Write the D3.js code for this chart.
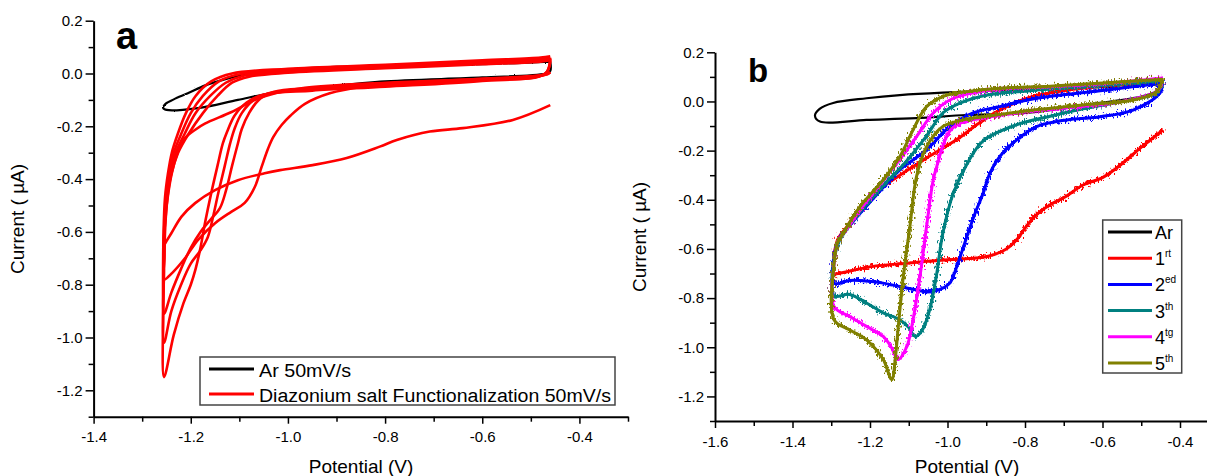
<!DOCTYPE html>
<html>
<head>
<meta charset="utf-8">
<script src="https://cdn.jsdelivr.net/npm/d3@7"></script>
<style>
  body { margin: 0; background: #fff; }
  svg { display: block; font-family: "Liberation Sans", Arial, sans-serif; }
</style>
</head>
<body>
<svg id="chart" width="1207" height="476"></svg>
<script>
// data: [potential (V), current (uA)]

// panel a
const xTicksA = [-1.4, -1.2, -1.0, -0.8, -0.6, -0.4]
const xMinorA = [-1.3, -1.1, -0.9, -0.7, -0.5, -0.3]
const yTicks = [0.2, 0.0, -0.2, -0.4, -0.6, -0.8, -1.0, -1.2]
const yMinor = [0.1, -0.1, -0.3, -0.5, -0.7, -0.9, -1.1, -1.3]

const arA = [[-0.46, 0.045], [-0.6, 0.035], [-0.8, 0.028], [-0.9, 0.025], [-1.0, 0.015], [-1.08, 0.0],
  [-1.136, -0.025], [-1.17, -0.045], [-1.206, -0.075], [-1.235, -0.098], [-1.252, -0.115], [-1.257, -0.13],
  [-1.25, -0.138], [-1.185, -0.131], [-1.103, -0.1], [-1.033, -0.074], [-0.965, -0.06], [-0.81, -0.031],
  [-0.6, -0.015], [-0.47, 0.0], [-0.46, 0.01], [-0.46, 0.045]]

const diazA1 = [[-0.46, -0.12], [-0.537, -0.176], [-0.64, -0.207], [-0.708, -0.22], [-0.776, -0.252], [-0.811, -0.277],
  [-0.879, -0.32], [-0.949, -0.347], [-1.016, -0.366], [-1.048, -0.378], [-1.103, -0.404], [-1.15, -0.442],
  [-1.191, -0.491], [-1.219, -0.542], [-1.24, -0.605], [-1.25, -0.635], [-1.255, -0.65],
  [-1.252, -0.55], [-1.246, -0.45], [-1.238, -0.37], [-1.225, -0.29], [-1.212, -0.245], [-1.19, -0.212],
  [-1.171, -0.19], [-1.116, -0.146], [-1.068, -0.1], [-1.02, -0.072], [-0.965, -0.054], [-0.8, -0.035],
  [-0.6, -0.02], [-0.5, -0.01], [-0.465, -0.002], [-0.46, 0.005]]
const diazA2 = [[-0.46, 0.005], [-0.47, -0.005], [-0.6, -0.02], [-0.75, -0.035], [-0.845, -0.05], [-0.914, -0.075],
  [-0.965, -0.115], [-0.995, -0.16], [-1.013, -0.195], [-1.03, -0.24], [-1.041, -0.285], [-1.054, -0.353],
  [-1.068, -0.429], [-1.089, -0.49], [-1.116, -0.523], [-1.15, -0.567], [-1.185, -0.63], [-1.212, -0.7],
  [-1.238, -0.755], [-1.255, -0.78],
  [-1.254, -0.7], [-1.253, -0.6], [-1.248, -0.47], [-1.24, -0.38], [-1.226, -0.3], [-1.205, -0.23], [-1.175, -0.15],
  [-1.145, -0.085], [-1.115, -0.035], [-1.08, -0.012], [-1.0, 0.003], [-0.8, 0.02], [-0.6, 0.035],
  [-0.48, 0.045], [-0.46, 0.05]]
const diazA3 = [[-0.46, 0.05], [-0.47, 0.0], [-0.6, -0.022], [-0.8, -0.04], [-0.95, -0.055], [-1.03, -0.07],
  [-1.06, -0.1], [-1.08, -0.15], [-1.095, -0.21], [-1.103, -0.265], [-1.115, -0.35], [-1.127, -0.44],
  [-1.14, -0.51], [-1.16, -0.555], [-1.18, -0.6], [-1.2, -0.66], [-1.22, -0.74], [-1.24, -0.83], [-1.255, -0.91],
  [-1.255, -0.75], [-1.254, -0.6], [-1.25, -0.47], [-1.243, -0.38], [-1.231, -0.3], [-1.213, -0.23], [-1.19, -0.15],
  [-1.16, -0.085], [-1.128, -0.035], [-1.095, -0.01], [-1.0, 0.008], [-0.8, 0.025], [-0.6, 0.04],
  [-0.48, 0.05], [-0.46, 0.055]]
const diazA4 = [[-0.46, 0.055], [-0.47, 0.0], [-0.6, -0.025], [-0.8, -0.045], [-0.95, -0.06], [-1.04, -0.075],
  [-1.07, -0.1], [-1.095, -0.15], [-1.11, -0.21], [-1.119, -0.265], [-1.13, -0.35], [-1.143, -0.45],
  [-1.155, -0.55], [-1.165, -0.62], [-1.18, -0.67], [-1.2, -0.72], [-1.22, -0.8], [-1.24, -0.9], [-1.255, -1.02],
  [-1.256, -0.8], [-1.255, -0.6], [-1.251, -0.47], [-1.245, -0.38], [-1.235, -0.3], [-1.22, -0.23], [-1.2, -0.15],
  [-1.175, -0.085], [-1.142, -0.03], [-1.105, -0.005], [-1.0, 0.013], [-0.8, 0.03], [-0.6, 0.045],
  [-0.48, 0.055], [-0.46, 0.06]]
const diazA5 = [[-0.46, 0.06], [-0.47, 0.0], [-0.6, -0.028], [-0.8, -0.05], [-0.95, -0.065], [-1.05, -0.08],
  [-1.085, -0.11], [-1.11, -0.16], [-1.125, -0.22], [-1.134, -0.265], [-1.145, -0.35], [-1.158, -0.454],
  [-1.17, -0.56], [-1.18, -0.66], [-1.19, -0.74], [-1.2, -0.8], [-1.215, -0.87], [-1.235, -0.99], [-1.255, -1.15],
  [-1.257, -0.9], [-1.256, -0.6], [-1.253, -0.47], [-1.247, -0.38], [-1.239, -0.3], [-1.227, -0.23], [-1.21, -0.15],
  [-1.19, -0.085], [-1.158, -0.03], [-1.115, 0.0], [-1.0, 0.018], [-0.8, 0.033], [-0.6, 0.05],
  [-0.48, 0.06], [-0.46, 0.065]]

// panel b
const xTicksB = [-1.6, -1.4, -1.2, -1.0, -0.8, -0.6, -0.4]
const xMinorB = [-1.5, -1.3, -1.1, -0.9, -0.7, -0.5]

const arB = [[-0.445, 0.07], [-0.6, 0.058], [-0.8, 0.048], [-1.012, 0.036], [-1.123, 0.026], [-1.209, 0.013],
  [-1.295, -0.006], [-1.33, -0.03], [-1.342, -0.058], [-1.329, -0.082], [-1.209, -0.075], [-1.08, -0.068],
  [-0.95, -0.055], [-0.797, -0.047], [-0.65, -0.015], [-0.5, 0.02], [-0.445, 0.05]]

const cycleB1 = [[-0.444, -0.116], [-0.498, -0.184], [-0.563, -0.27], [-0.6, -0.31], [-0.65, -0.34], [-0.698, -0.39],
  [-0.735, -0.42], [-0.77, -0.46], [-0.797, -0.509], [-0.82, -0.56], [-0.848, -0.6], [-0.898, -0.631],
  [-1.0, -0.644], [-1.098, -0.657], [-1.197, -0.672], [-1.277, -0.698], [-1.293, -0.7],
  [-1.292, -0.62], [-1.283, -0.56], [-1.26, -0.51], [-1.209, -0.4], [-1.123, -0.3], [-1.054, -0.23],
  [-0.976, -0.155], [-0.92, -0.09], [-0.865, -0.035], [-0.78, 0.02], [-0.65, 0.055], [-0.477, 0.075], [-0.445, 0.08]]
const cycleB2 = [[-0.445, 0.08], [-0.452, 0.034], [-0.521, -0.035], [-0.606, -0.062], [-0.692, -0.075],
  [-0.77, -0.102], [-0.822, -0.157], [-0.865, -0.224], [-0.89, -0.29], [-0.908, -0.373], [-0.93, -0.46],
  [-0.95, -0.55], [-0.976, -0.671], [-0.994, -0.739], [-1.02, -0.765], [-1.05, -0.775], [-1.08, -0.767],
  [-1.123, -0.753], [-1.166, -0.739], [-1.209, -0.73], [-1.252, -0.728], [-1.293, -0.739],
  [-1.292, -0.62], [-1.28, -0.56], [-1.25, -0.5], [-1.2, -0.41], [-1.16, -0.34], [-1.123, -0.278],
  [-1.054, -0.197], [-0.994, -0.102], [-0.934, -0.047], [-0.865, -0.021], [-0.78, 0.01], [-0.6, 0.045], [-0.445, 0.075]]
const cycleB3 = [[-0.445, 0.075], [-0.46, 0.035], [-0.55, 0.0], [-0.65, -0.03], [-0.735, -0.06], [-0.822, -0.095],
  [-0.908, -0.16], [-0.95, -0.255], [-0.985, -0.373], [-1.012, -0.536], [-1.029, -0.712], [-1.046, -0.848],
  [-1.065, -0.93], [-1.083, -0.956], [-1.1, -0.92], [-1.123, -0.888], [-1.166, -0.86], [-1.209, -0.82],
  [-1.252, -0.785], [-1.293, -0.79],
  [-1.292, -0.64], [-1.28, -0.57], [-1.26, -0.52], [-1.215, -0.43], [-1.165, -0.34], [-1.11, -0.25],
  [-1.054, -0.14], [-1.012, -0.047], [-0.968, -0.007], [-0.9, 0.025], [-0.78, 0.045], [-0.6, 0.065], [-0.445, 0.085]]
const cycleB4 = [[-0.445, 0.085], [-0.46, 0.04], [-0.55, 0.0], [-0.65, -0.02], [-0.78, -0.04], [-0.9, -0.065],
  [-0.97, -0.09], [-0.994, -0.12], [-1.012, -0.18], [-1.025, -0.25], [-1.037, -0.32], [-1.054, -0.509],
  [-1.071, -0.712], [-1.089, -0.888], [-1.105, -0.997], [-1.128, -1.05], [-1.145, -1.0], [-1.166, -0.956],
  [-1.209, -0.915], [-1.252, -0.875], [-1.293, -0.834],
  [-1.292, -0.65], [-1.283, -0.57], [-1.265, -0.53], [-1.22, -0.43], [-1.17, -0.33], [-1.125, -0.24],
  [-1.08, -0.143], [-1.037, -0.047], [-0.994, 0.006], [-0.95, 0.03], [-0.865, 0.05], [-0.735, 0.06],
  [-0.6, 0.072], [-0.445, 0.095]]
const cycleB5 = [[-0.445, 0.095], [-0.46, 0.04], [-0.521, 0.006], [-0.65, -0.014], [-0.779, -0.035],
  [-0.908, -0.062], [-0.95, -0.072], [-1.012, -0.102], [-1.054, -0.184], [-1.08, -0.306], [-1.097, -0.509],
  [-1.114, -0.712], [-1.127, -0.915], [-1.135, -1.05], [-1.144, -1.132], [-1.166, -1.05], [-1.209, -0.97],
  [-1.252, -0.93], [-1.293, -0.888],
  [-1.292, -0.65], [-1.285, -0.58], [-1.269, -0.536], [-1.226, -0.428], [-1.166, -0.319], [-1.123, -0.224],
  [-1.089, -0.116], [-1.054, -0.021], [-1.012, 0.02], [-0.95, 0.04], [-0.865, 0.054], [-0.735, 0.062],
  [-0.6, 0.075], [-0.477, 0.087], [-0.445, 0.09]]

const legendA = ['Ar 50mV/s', 'Diazonium salt Functionalization 50mV/s']
const legendB = [['Ar', ''], ['1', 'rt'], ['2', 'ed'], ['3', 'th'], ['4', 'tg'], ['5', 'th']]
const colorsB = ['#000000', '#ff0000', '#0000ff', '#008080', '#ff00ff', '#808000']

// setup
const svg = d3.select('#chart')
const fmt = d => d.toFixed(1)

const defs = svg.append('defs')
// pen noise of the measured traces
function jitter(id, freq, scale) {
  const f = defs.append('filter').attr('id', id)
    .attr('filterUnits', 'userSpaceOnUse')
    .attr('x', 0).attr('y', 0).attr('width', 1207).attr('height', 476)
  f.append('feTurbulence').attr('type', 'fractalNoise')
    .attr('baseFrequency', freq).attr('numOctaves', 1).attr('seed', 7).attr('result', 'n')
  f.append('feDisplacementMap').attr('in', 'SourceGraphic').attr('in2', 'n')
    .attr('scale', scale).attr('xChannelSelector', 'R').attr('yChannelSelector', 'G')
}
jitter('noiseB', '0.7 0.35', 14)
jitter('noiseA', '0.9 0.9', 2)

function drawAxes(x, y, xMajor, xMinor) {
  const g = svg.append('g')
  const y0 = y.range()[0]
  const x0 = x.range()[0]

  g.append('g').attr('transform', `translate(0,${y0})`)
    .call(d3.axisBottom(x).tickValues(xMajor).tickFormat(fmt).tickSize(7).tickPadding(8).tickSizeOuter(0))
  g.append('g').attr('transform', `translate(0,${y0})`)
    .call(d3.axisBottom(x).tickValues(xMinor).tickFormat('').tickSize(5).tickSizeOuter(0))
    .select('.domain').remove()

  g.append('g').attr('transform', `translate(${x0},0)`)
    .call(d3.axisLeft(y).tickValues(yTicks).tickFormat(fmt).tickSize(8).tickPadding(3).tickSizeOuter(0))
  g.append('g').attr('transform', `translate(${x0},0)`)
    .call(d3.axisLeft(y).tickValues(yMinor).tickFormat('').tickSize(5).tickSizeOuter(0))
    .select('.domain').remove()

  g.selectAll('.domain').attr('stroke', '#000').attr('stroke-width', 2)
  g.selectAll('.tick line').attr('stroke', '#000').attr('stroke-width', 1.5)
  g.selectAll('text').attr('font-size', 15).attr('fill', '#000')
    .attr('font-family', '"Liberation Sans", Arial, sans-serif')
}

function title(text, tx, ty, rot) {
  svg.append('text')
    .attr('transform', `translate(${tx},${ty})` + (rot ? ' rotate(-90)' : ''))
    .attr('text-anchor', 'middle').attr('font-size', 19).text(text)
}

// panel a [[[1
const xA = d3.scaleLinear().domain([-1.4, -0.3]).range([93.6, 628])
const yA = d3.scaleLinear().domain([-1.3, 0.2]).range([416.7, 20.7])
const lineA = d3.line().x(d => xA(d[0])).y(d => yA(d[1])).curve(d3.curveCatmullRom.alpha(0.5))

svg.append('path').datum(arA).attr('d', lineA)
  .attr('fill', 'none').attr('stroke', '#000').attr('stroke-width', 2.2).attr('filter', 'url(#noiseA)')

svg.append('g').selectAll('path')
  .data([diazA1, diazA2, diazA3, diazA4, diazA5])
  .enter().append('path')
  .attr('d', lineA)
  .attr('fill', 'none').attr('stroke', '#ff0000').attr('stroke-width', 2.6)
  .attr('stroke-linejoin', 'round')

drawAxes(xA, yA, xTicksA, xMinorA)
title('Potential (V)', 361, 473, false)
title('Current ( \u00b5A)', 24, 219, true)
svg.append('text').attr('x', 116).attr('y', 49)
  .attr('font-size', 38).attr('font-weight', 'bold').text('a')

// legend a
const legA = svg.append('g')
legA.append('rect').attr('x', 200).attr('y', 357).attr('width', 415).attr('height', 48)
  .attr('fill', '#fff').attr('stroke', '#444').attr('stroke-width', 1.5)
const legAWidths = [92, 352]
legendA.forEach((t, i) => {
  const ly = 369 + i * 25
  legA.append('line').attr('x1', 209).attr('x2', 254).attr('y1', ly).attr('y2', ly)
    .attr('stroke', i ? '#ff0000' : '#000').attr('stroke-width', 3)
  legA.append('text').attr('x', 259).attr('y', ly + 8).attr('font-size', 18)
    .attr('textLength', legAWidths[i]).attr('lengthAdjust', 'spacingAndGlyphs').text(t)
})

// panel b [[[1
const xB = d3.scaleLinear().domain([-1.6, -0.3]).range([715, 1218.75])
const yB = d3.scaleLinear().domain([-1.3, 0.2]).range([421, 52.3])
const lineB = d3.line().x(d => xB(d[0])).y(d => yB(d[1])).curve(d3.curveCatmullRom.alpha(0.5))

svg.append('path').datum(arB).attr('d', lineB)
  .attr('fill', 'none').attr('stroke', '#000').attr('stroke-width', 2.2)

// each scan: solid core plus a noisy copy on top
const scansB = svg.append('g').selectAll('g')
  .data([cycleB1, cycleB2, cycleB3, cycleB4, cycleB5])
  .enter().append('g')
scansB.append('path')
  .attr('d', lineB)
  .attr('fill', 'none').attr('stroke', (d, i) => colorsB[i + 1]).attr('stroke-width', 3)
  .attr('stroke-linejoin', 'round')
scansB.append('path')
  .attr('d', lineB)
  .attr('fill', 'none').attr('stroke', (d, i) => colorsB[i + 1]).attr('stroke-width', 2.6)
  .attr('stroke-linejoin', 'round')
  .attr('filter', 'url(#noiseB)')

drawAxes(xB, yB, xTicksB, xMinorB)
title('Potential (V)', 967, 473, false)
title('Current ( \u00b5A)', 646, 237, true)
svg.append('text').attr('x', 748).attr('y', 82)
  .attr('font-size', 33).attr('font-weight', 'bold').text('b')

// legend b
const legB = svg.append('g')
legB.append('rect').attr('x', 1102.7).attr('y', 220).attr('width', 79).attr('height', 153)
  .attr('fill', '#fff').attr('stroke', '#444').attr('stroke-width', 1.5)
legendB.forEach((t, i) => {
  const ly = 232 + i * 26.2
  legB.append('line').attr('x1', 1108).attr('x2', 1152).attr('y1', ly).attr('y2', ly)
    .attr('stroke', colorsB[i]).attr('stroke-width', 3)
  const tx = legB.append('text').attr('x', 1155).attr('y', ly + 7).attr('font-size', 18)
  tx.append('tspan').text(t[0])
  if (t[1]) tx.append('tspan').attr('dy', -8).attr('font-size', 10).text(t[1])
})
</script>
</body>
</html>
